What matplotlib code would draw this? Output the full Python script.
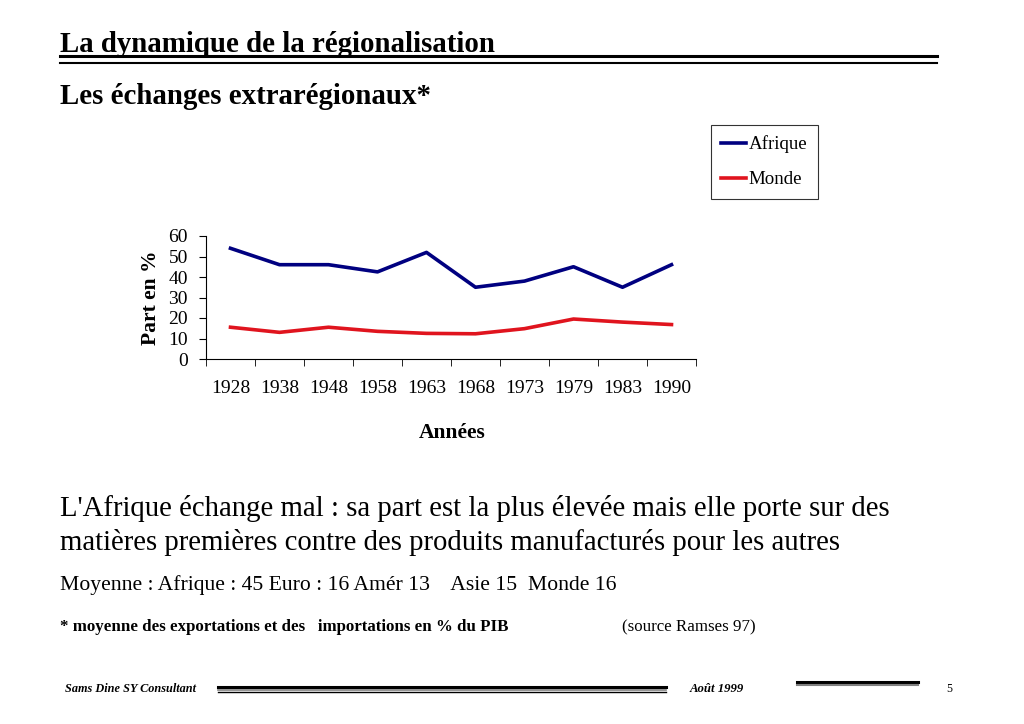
import matplotlib.pyplot as plt
from matplotlib.lines import Line2D

plt.rcParams['font.family'] = ['Liberation Serif', 'DejaVu Serif']

annees = ['1928', '1938', '1948', '1958', '1963', '1968', '1973', '1979', '1983', '1990']
afrique = [54, 46, 46, 42.5, 52, 35, 38, 45, 35, 46]
monde = [15.5, 13, 15.5, 13.5, 12.5, 12.3, 14.8, 19.5, 18, 16.8]

W, H = 1024, 724
fig = plt.figure(figsize=(W / 100, H / 100), dpi=100)


def fx(px):
    return px / W


def fy(py):
    return 1 - py / H


def hline(x0, x1, y, lw, color='black'):
    fig.add_artist(Line2D([fx(x0), fx(x1)], [fy(y), fy(y)], color=color, lw=lw,
                          transform=fig.transFigure))


# titre
fig.text(fx(60), fy(44), "La dynamique de la régionalisation", fontsize=20.8,
         fontweight='bold', va='center', ha='left')
hline(60, 937, 55.5, 2.2)
hline(60, 937, 63, 1.5)
fig.text(fx(60), fy(96), "Les échanges extrarégionaux*", fontsize=20.8,
         fontweight='bold', va='center', ha='left')

# graphique
ax = fig.add_axes([fx(206), fy(359), fx(696) - fx(206), fy(236) - fy(359)])
x = list(range(len(annees)))
ax.plot(x, afrique, color='#000080', lw=2.6, label='Afrique')
ax.plot(x, monde, color='#e0141e', lw=2.6, label='Monde')
ax.set_xlim(-0.5, len(annees) - 0.5)
ax.set_ylim(0, 60)
ax.set_yticks(range(0, 61, 10))
ax.set_xticks(x)
ax.set_xticklabels(annees)
ax.set_xticks([i - 0.5 for i in range(len(annees) + 1)], minor=True)
ax.tick_params(axis='x', which='major', length=0, pad=15, labelsize=14)
ax.tick_params(axis='x', which='minor', length=5, direction='out')
ax.tick_params(axis='y', length=5, direction='out', labelsize=14, pad=8)
for s in ['top', 'right']:
    ax.spines[s].set_visible(False)
ax.set_facecolor('none')
ax.set_ylabel('Part en %', fontsize=15.5, fontweight='bold', labelpad=5)
fig.text(fx(452), fy(433), 'Années', fontsize=15.5, fontweight='bold',
         ha='center', va='center')

leg = fig.legend(loc='upper left', bbox_to_anchor=(fx(711), fy(125)),
                 fontsize=13.6, frameon=True, fancybox=False, edgecolor='black',
                 handlelength=1.3, handletextpad=0.15, labelspacing=0.95,
                 borderpad=0.55, borderaxespad=0)
leg.get_frame().set_linewidth(0.8)

# texte
fig.text(fx(60), fy(508), "L'Afrique échange mal : sa part est la plus élevée mais elle porte sur des",
         fontsize=20.7, va='center', ha='left')
fig.text(fx(60), fy(542), "matières premières contre des produits manufacturés pour les autres",
         fontsize=20.7, va='center', ha='left')
fig.text(fx(60), fy(585), "Moyenne : Afrique : 45 Euro : 16 Amér 13    Asie 15  Monde 16",
         fontsize=15.6, va='center', ha='left')
fig.text(fx(60), fy(627), "* moyenne des exportations et des   importations en % du PIB",
         fontsize=12.2, fontweight='bold', va='center', ha='left')
fig.text(fx(622), fy(627), "(source Ramses 97)", fontsize=12.2, va='center', ha='left')

# pied de page
fig.text(fx(65), fy(689), "Sams Dine SY Consultant", fontsize=8.8, fontweight='bold',
         fontstyle='italic', va='center', ha='left')
hline(218, 666, 686.5, 2.2)
hline(218, 666, 689.5, 1.2, '#808080')
hline(218, 666, 692, 1.0)
fig.text(fx(690), fy(689), "Août 1999", fontsize=9.2, fontweight='bold',
         fontstyle='italic', va='center', ha='left')
hline(797, 918, 681.5, 2.2)
hline(797, 918, 684.5, 1.5, '#808080')
fig.text(fx(946), fy(689), "5", fontsize=8.5, va='center', ha='left')

fig.savefig('out.png', dpi=100, facecolor='white')
